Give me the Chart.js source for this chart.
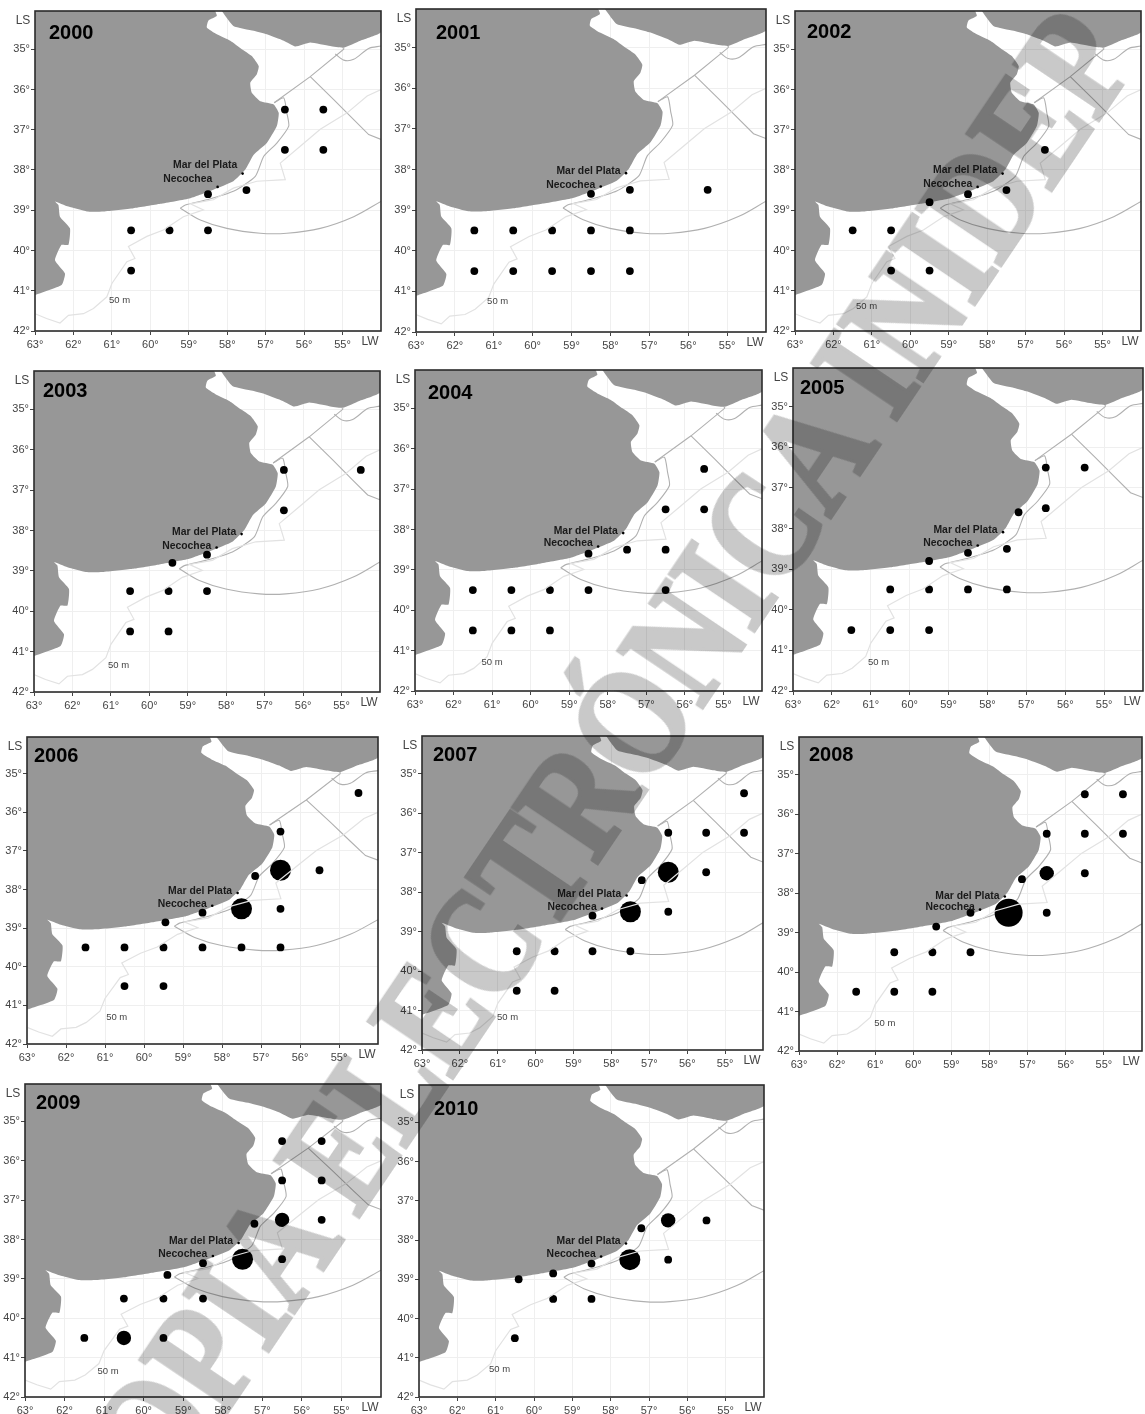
<!DOCTYPE html>
<html>
<head>
<meta charset="utf-8">
<title>Estaciones 2000-2010</title>
<script src="https://cdn.jsdelivr.net/npm/chart.js@4"></script>
<style>
  html, body { margin: 0; padding: 0; background: #fff; }
  #page { position: relative; width: 1145px; height: 1414px; overflow: hidden; }
  #page canvas { position: absolute; }
  #marca {
    position: absolute; left: 586px; top: 788px;
    transform: translate(-50%, -50%) rotate(-56deg) scaleX(0.81);
    font: bold 155px "Liberation Serif", serif;
    color: #c9c9c9; -webkit-text-stroke: 4px #c9c9c9;
    white-space: nowrap; mix-blend-mode: multiply; pointer-events: none;
  }
</style>
</head>
<body>
<div id="page"></div>
<script>
// anios y estaciones: [lon, lat, clase de captura]
const years = [2000, 2001, 2002, 2003, 2004, 2005, 2006, 2007, 2008, 2009, 2010];
const st2000 = [[56.5,36.5,1],[55.5,36.5,1],[56.5,37.5,1],[55.5,37.5,1],[58.5,38.6,1],[57.5,38.5,1],[60.5,39.5,1],[59.5,39.5,1],[58.5,39.5,1],[60.5,40.5,1]];
const st2001 = [[58.5,38.6,1],[57.5,38.5,1],[55.5,38.5,1],[61.5,39.5,1],[60.5,39.5,1],[59.5,39.5,1],[58.5,39.5,1],[57.5,39.5,1],[61.5,40.5,1],[60.5,40.5,1],[59.5,40.5,1],[58.5,40.5,1],[57.5,40.5,1]];
const st2002 = [[56.5,37.5,1],[57.5,38.5,1],[58.5,38.6,1],[59.5,38.8,1],[61.5,39.5,1],[60.5,39.5,1],[60.5,40.5,1],[59.5,40.5,1]];
const st2003 = [[56.5,36.5,1],[54.5,36.5,1],[56.5,37.5,1],[58.5,38.6,1],[59.4,38.8,1],[60.5,39.5,1],[59.5,39.5,1],[58.5,39.5,1],[60.5,40.5,1],[59.5,40.5,1]];
const st2004 = [[55.5,36.5,1],[56.5,37.5,1],[55.5,37.5,1],[58.5,38.6,1],[57.5,38.5,1],[56.5,38.5,1],[61.5,39.5,1],[60.5,39.5,1],[59.5,39.5,1],[58.5,39.5,1],[56.5,39.5,1],[61.5,40.5,1],[60.5,40.5,1],[59.5,40.5,1]];
const st2005 = [[56.5,36.5,1],[55.5,36.5,1],[57.2,37.6,1],[56.5,37.5,1],[58.5,38.6,1],[57.5,38.5,1],[59.5,38.8,1],[60.5,39.5,1],[59.5,39.5,1],[58.5,39.5,1],[57.5,39.5,1],[61.5,40.5,1],[60.5,40.5,1],[59.5,40.5,1]];
const st2006 = [[54.5,35.5,1],[56.5,36.5,1],[56.5,37.5,3],[55.5,37.5,1],[57.15,37.65,1],[57.5,38.5,3],[58.5,38.6,1],[56.5,38.5,1],[59.45,38.85,1],[61.5,39.5,1],[60.5,39.5,1],[59.5,39.5,1],[58.5,39.5,1],[57.5,39.5,1],[56.5,39.5,1],[60.5,40.5,1],[59.5,40.5,1]];
const st2007 = [[54.5,35.5,1],[56.5,36.5,1],[55.5,36.5,1],[54.5,36.5,1],[56.5,37.5,3],[55.5,37.5,1],[57.2,37.7,1],[57.5,38.5,3],[58.5,38.6,1],[56.5,38.5,1],[60.5,39.5,1],[59.5,39.5,1],[58.5,39.5,1],[57.5,39.5,1],[60.5,40.5,1],[59.5,40.5,1]];
const st2008 = [[55.5,35.5,1],[54.5,35.5,1],[56.5,36.5,1],[55.5,36.5,1],[54.5,36.5,1],[56.5,37.5,2],[55.5,37.5,1],[57.15,37.65,1],[57.5,38.5,4],[58.5,38.5,1],[56.5,38.5,1],[59.4,38.85,1],[60.5,39.5,1],[59.5,39.5,1],[58.5,39.5,1],[61.5,40.5,1],[60.5,40.5,1],[59.5,40.5,1]];
const st2009 = [[56.5,35.5,1],[55.5,35.5,1],[56.5,36.5,1],[55.5,36.5,1],[56.5,37.5,2],[55.5,37.5,1],[57.2,37.6,1],[57.5,38.5,3],[58.5,38.6,1],[56.5,38.5,1],[59.4,38.9,1],[60.5,39.5,1],[59.5,39.5,1],[58.5,39.5,1],[61.5,40.5,1],[60.5,40.5,2],[59.5,40.5,1]];
const st2010 = [[56.5,37.5,2],[55.5,37.5,1],[57.2,37.7,1],[57.5,38.5,3],[58.5,38.6,1],[56.5,38.5,1],[59.5,38.85,1],[60.4,39,1],[59.5,39.5,1],[58.5,39.5,1],[60.5,40.5,1]];
const stations = [st2000, st2001, st2002, st2003, st2004, st2005, st2006, st2007, st2008, st2009, st2010];

// ejes
const lonTicks = [63, 62, 61, 60, 59, 58, 57, 56, 55];
const latTicks = [35, 36, 37, 38, 39, 40, 41, 42];

// costa argentina, costa uruguaya y limites [lon, lat]
const argentina = [[63,34],[58.36,34],[58.27,34.17],[58.49,34.29],[58.53,34.46],[58.27,34.63],[57.92,34.79],[57.62,35],[57.36,35.17],[57.18,35.42],[57.23,35.62],[57.4,35.83],[57.36,36.08],[57.14,36.29],[56.79,36.37],[56.66,36.58],[56.71,36.91],[56.97,37.33],[57.31,37.62],[57.53,37.99],[57.84,38.28],[58.36,38.49],[58.96,38.7],[59.74,38.84],[60.44,38.95],[61.22,39.03],[61.65,39.03],[62.13,38.91],[62.48,38.78],[62.39,38.87],[62.35,39.16],[62.09,39.45],[62.13,39.86],[62.31,39.86],[62.48,40.24],[62.22,40.57],[62.31,40.86],[63,41.11]];
const uruguay = [[58.18,34],[57.84,34.42],[57.31,34.54],[56.97,34.63],[56.53,34.79],[56.23,34.93],[55.84,34.83],[55.32,34.92],[54.97,34.96],[54.54,34.79],[54,34.58],[54,34]];
const limiteRio = [[56.78,36.33],[55.84,35.68],[54.97,35],[54.97,34.96]];
const limiteLazo = [[55.19,35.12],[54.97,35.27],[54.71,35.25],[54.32,34.98],[54,34.92]];
const limiteZona = [[55.84,35.68],[55.23,36.25],[54.71,36.75],[54.32,37.12],[54,37.24]];
const limiteCosta = [[56.78,36.33],[56.53,36.21],[56.45,36.58],[56.4,36.91],[56.71,37.33],[57.05,37.66],[57.27,38.16],[57.84,38.53],[58.53,38.74],[59.09,38.87],[59.22,38.95]];
const limiteArco = [[59.22,38.95],[58.7,39.24],[58.01,39.45],[57.14,39.57],[56.45,39.57],[55.58,39.45],[54.71,39.16],[54,38.78]];
const isobata50 = [[63,41.57],[62.7,41.69],[62.35,41.8],[62.13,41.61],[61.74,41.57],[61.48,41.44],[61.13,41.15],[61,40.82],[60.61,40.28],[60.4,40.2],[60.57,39.9],[60.09,39.65],[59.66,39.49],[59.14,39.16],[58.62,38.99],[58.96,38.84],[58.36,38.74],[57.84,38.45],[57.23,38.28],[56.49,38.24],[56.62,37.83],[56.1,37.41],[55.58,36.99],[54.88,36.58],[54.36,36.16],[54,36]];

// ciudades
const cityNames = ['Mar del Plata', 'Necochea'];
const cityPoints = [[57.6, 38.09], [58.25, 38.42]];
const cityLabelLats = [[37.88,38.22],[38.04,38.39],[38,38.35],[38.04,38.39],[38.03,38.35],[38.05,38.37],[38.03,38.38],[38.05,38.38],[38.08,38.37],[38.03,38.36],[38.02,38.36]];
const label50Lons = [60.8,60.9,61.14,60.8,61,60.8,60.7,60.74,60.75,60.9,60.9];
const label50Lats = [41.23,41.25,41.4,41.35,41.3,41.3,41.3,41.17,41.3,41.35,41.3];

// cajas de cada panel: izq, arriba, der, abajo, x e y del titulo
const panels = [
  [35,11,381,331, 49,33], [416,9,766,332, 436,33], [795,11,1141,331, 807,32],
  [34,371,380,692, 43,391], [415,370,762,691, 428,393], [793,368,1143,691, 800,388],
  [27,737,378,1044, 34,756], [422,736,763,1050, 433,755], [799,737,1142,1051, 809,755],
  [25,1084,381,1397, 36,1103], [419,1085,764,1397, 434,1109]
];
const radiusByClass = { 1: 3.9, 2: 7.2, 3: 10.5, 4: 14 };
const LAND = '#979797', LIMIT = '#b0b0b0', TICK_TXT = '#444';
const AXIS_W = 24, AXIS_H = 24;

const xy = pts => pts.map(p => ({ x: p[0], y: p[1] }));
const lineSet = (pts, color, width, order, tension) => ({
  data: xy(pts), showLine: true, borderColor: color, borderWidth: width,
  pointRadius: 0, fill: false, order: order, tension: tension || 0
});
const landSet = pts => ({
  data: xy(pts), showLine: true, borderWidth: 0, borderColor: LAND, backgroundColor: LAND,
  fill: 'shape', pointRadius: 0, order: 10, tension: 0.15
});

const page = document.getElementById('page');

years.forEach((year, i) => {
  const [left, top, right, bottom, titleX, titleY] = panels[i];
  const canvas = document.createElement('canvas');
  canvas.width = right - left + AXIS_W + 4;
  canvas.height = bottom - top + 12 + AXIS_H;
  canvas.style.left = (left - AXIS_W) + 'px';
  canvas.style.top = (top - 12) + 'px';
  page.appendChild(canvas);
  const ox = left - AXIS_W, oy = top - 12;
  const st = stations[i];

  // textos sueltos del mapa y marco
  const mapText = {
    id: 'mapText',
    afterDatasetsDraw(chart) {
      const { ctx, chartArea: a, scales: { x, y } } = chart;
      ctx.save();
      ctx.strokeStyle = '#2b2b2b';
      ctx.lineWidth = 1.6;
      ctx.strokeRect(a.left, a.top, a.right - a.left, a.bottom - a.top);

      ctx.textBaseline = 'middle';
      ctx.fillStyle = '#000';
      ctx.textAlign = 'left';
      ctx.font = 'bold 20px "Liberation Sans", Arial, sans-serif';
      ctx.fillText(String(year), titleX - ox, titleY - oy);

      ctx.fillStyle = '#1a1a1a';
      ctx.textAlign = 'right';
      ctx.font = 'bold 10.4px "Liberation Sans", Arial, sans-serif';
      cityNames.forEach((name, k) => {
        ctx.fillText(name, x.getPixelForValue(cityPoints[k][0] + 0.14), y.getPixelForValue(cityLabelLats[i][k]));
      });

      ctx.fillStyle = '#444';
      ctx.textAlign = 'center';
      ctx.font = '9.5px "Liberation Sans", Arial, sans-serif';
      ctx.fillText('50 m', x.getPixelForValue(label50Lons[i]), y.getPixelForValue(label50Lats[i]));

      ctx.fillStyle = TICK_TXT;
      ctx.font = '12px "Liberation Sans", Arial, sans-serif';
      ctx.fillText('LS', a.left - 12, a.top + 10);
      ctx.fillText('LW', a.right - 11, a.bottom + 11);
      ctx.restore();
    }
  };

  new Chart(canvas, {
    type: 'scatter',
    data: {
      datasets: [
        {
          data: xy(st), backgroundColor: '#000', borderWidth: 0, order: 5,
          pointRadius: st.map(s => radiusByClass[s[2]])
        },
        { data: xy(cityPoints), backgroundColor: '#000', borderWidth: 0, pointRadius: 1.3, order: 1 },
        lineSet(limiteRio, LIMIT, 1.1, 6),
        lineSet(limiteLazo, LIMIT, 1.1, 6, 0.3),
        lineSet(limiteZona, LIMIT, 1.1, 6),
        lineSet(limiteCosta, LIMIT, 1.1, 6, 0.2),
        lineSet(limiteArco, LIMIT, 1.1, 6, 0.35),
        lineSet(isobata50, '#e2e2e2', 1.2, 3),
        landSet(argentina),
        landSet(uruguay)
      ]
    },
    options: {
      responsive: false,
      animation: false,
      devicePixelRatio: 1,
      layout: { autoPadding: false, padding: { top: 12, right: 4, left: 0, bottom: 0 } },
      plugins: { legend: { display: false }, tooltip: { enabled: false } },
      scales: {
        x: {
          type: 'linear', reverse: true, min: 54, max: 63,
          afterBuildTicks: s => { s.ticks = lonTicks.map(v => ({ value: v })); },
          afterFit: s => { s.height = AXIS_H; },
          grid: { color: '#efefef', tickColor: '#444', tickLength: 4 },
          border: { display: false },
          ticks: {
            autoSkip: false, maxRotation: 0, padding: 3, color: TICK_TXT,
            font: { family: '"Liberation Sans", Arial, sans-serif', size: 11 },
            callback: v => v + '°'
          }
        },
        y: {
          type: 'linear', reverse: true, min: 34.05, max: 42,
          afterBuildTicks: s => { s.ticks = latTicks.map(v => ({ value: v })); },
          afterFit: s => { s.width = AXIS_W; },
          grid: { color: '#efefef', tickColor: '#444', tickLength: 4 },
          border: { display: false },
          ticks: {
            autoSkip: false, padding: 1, color: TICK_TXT,
            font: { family: '"Liberation Sans", Arial, sans-serif', size: 11 },
            callback: v => v + '°'
          }
        }
      }
    },
    plugins: [mapText]
  });
});

const marca = document.createElement('div');
marca.id = 'marca';
marca.textContent = 'COPIA ELECTRÓNICA INIDEP';
page.appendChild(marca);
</script>
</body>
</html>
